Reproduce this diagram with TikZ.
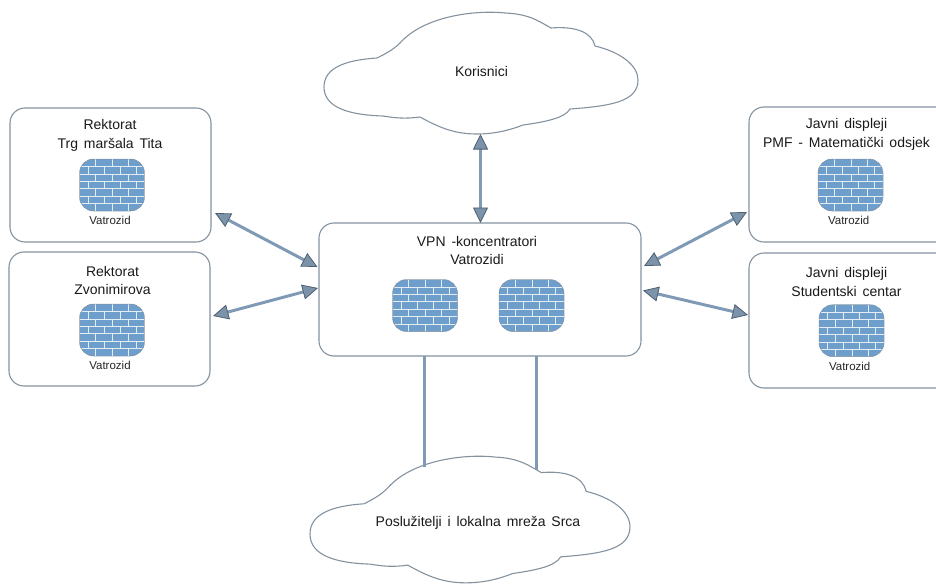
\documentclass[tikz,border=0pt]{standalone}
\usepackage{fontspec}
\setmainfont[WordSpace=1.5]{Liberation Sans}
\usetikzlibrary{arrows.meta,calc}
\definecolor{edgegrey}{HTML}{84929F}
\definecolor{linkblue}{HTML}{7F9AB4}
\definecolor{tipfill}{HTML}{7B93AB}
\definecolor{tipedge}{HTML}{4F5F6E}
\definecolor{brick}{HTML}{6E9ECC}
\definecolor{mortar}{HTML}{E4EDF4}
\newcommand{\cloudshape}{(377,58)
 .. controls (385,54) and (393,50) .. (400,43)
 .. controls (425,15) and (478,10) .. (505,13)
 .. controls (530,14) and (540,22) .. (551,28)
 .. controls (575,26) and (592,32) .. (595,46)
 .. controls (620,52) and (638,65) .. (638,80)
 .. controls (638,102) and (610,106) .. (570,109)
 .. controls (565,118) and (545,122) .. (523,125)
 .. controls (505,132) and (490,134) .. (477,134)
 .. controls (455,134) and (440,128) .. (420,117)
 .. controls (405,119) and (395,118) .. (383,116)
 .. controls (350,115) and (324,108) .. (324,87)
 .. controls (324,68) and (345,60) .. (377,58) -- cycle}
\tikzset{
 x=1pt,y=-1pt,
 sitebox/.style={draw=edgegrey,line width=1.1pt,rounded corners=15pt,minimum width=#1,minimum height=134pt,inner sep=0pt,outer sep=0pt},
 cloudline/.style={draw=edgegrey,line width=1.1pt,line join=round},
 cloudbox/.style={inner sep=0pt,outer sep=0pt},
 caption/.style={font=\fontsize{14}{18.8}\selectfont,align=center,inner sep=0pt,text=black!90},
 fwcaption/.style={font=\fontsize{11.5}{14}\selectfont,inner sep=0pt,text=black!85},
 link/.style={draw=linkblue,line width=3pt,{Triangle[length=15.5pt,width=15pt,fill=tipfill,color=tipedge,line width=.8pt]}-{Triangle[length=15.5pt,width=15pt,fill=tipfill,color=tipedge,line width=.8pt]}},
 plainlink/.style={draw=linkblue,line width=3pt},
 pics/brickwall/.style={code={
  \begin{scope}
  \clip[rounded corners=14pt] (-32.5,-26) rectangle (32.5,26);
  \fill[brick] (-32.5,-26) rectangle (32.5,26);
  \foreach \r in {1,...,6}{\draw[mortar,line width=.8pt] (-33,{-26+\r*7.45}) -- (33,{-26+\r*7.45});}
  \foreach \r in {0,2,4,6}{\foreach \v in {16.3,33,49,65}{\draw[mortar,line width=.8pt] ({-32.5+\v},{-26+\r*7.45}) -- ({-32.5+\v},{-26+(\r+1)*7.45});}}
  \foreach \r in {1,3,5}{\foreach \v in {8.7,24.7,40.7,56.7}{\draw[mortar,line width=.8pt] ({-32.5+\v},{-26+\r*7.45}) -- ({-32.5+\v},{-26+(\r+1)*7.45});}}
  \end{scope}
  \draw[edgegrey,line width=.5pt,rounded corners=14pt] (-32.5,-26) rectangle (32.5,26);
 }}
}
\begin{document}
\begin{tikzpicture}
\useasboundingbox (0,0) rectangle (936,583);
% boxes
\node[sitebox=201pt] (rekt1) at (110.5,175) {};
\node[sitebox=201pt] (rekt2) at (109.5,319) {};
\node[sitebox=322pt,minimum height=133pt] (vpn) at (480,289.5) {};
\node[sitebox=210pt,minimum height=135pt] (disp1) at (854,174.5) {};
\node[sitebox=210pt,minimum height=135pt] (disp2) at (854,320.5) {};
% clouds
\path[cloudline] \cloudshape;
\path[cloudline,shift={(310,457)},xscale=1.019,yscale=1.04,shift={(-324,-13)}] \cloudshape;
\node[cloudbox,minimum width=314pt,minimum height=121pt] (users) at (481,73.5) {};
\node[cloudbox,minimum width=320pt,minimum height=126pt] (servers) at (470,520) {};
% firewalls
\pic at (112,185) {brickwall};
\pic at (112,330) {brickwall};
\pic at (425,305.5) {brickwall};
\pic at (531.5,305.5) {brickwall};
\pic at (850.5,185) {brickwall};
\pic at (851.5,330.7) {brickwall};
% text
\node[caption] (t1) at (110,135) {Rektorat\\Trg maršala Tita};
\node[caption] (t2) at (112.5,280.5) {Rektorat\\Zvonimirova};
\node[caption] (t3) at (477,250.5) {VPN -koncentratori\\Vatrozidi};
\node[caption] (t4) at (846.5,134.5) {Javni displeji\\PMF - Matematički odsjek};
\node[caption] (t5) at (846.5,282) {Javni displeji\\Studentski centar};
\node[caption] (t6) at (481.5,71.5) {Korisnici};
\node[caption] (t7) at (478,523) {Poslužitelji i lokalna mreža Srca};
\node[fwcaption] (f1) at (110,220.7) {Vatrozid};
\node[fwcaption] (f2) at (110,365) {Vatrozid};
\node[fwcaption] (f3) at (848.7,220.7) {Vatrozid};
\node[fwcaption] (f4) at (849.7,366.7) {Vatrozid};
% connectors
\draw[link] ([shift={(4,-29)}]rekt1.south east) -- ([shift={(-1.5,44)}]vpn.north west);
\draw[link] ([shift={(3,64)}]rekt2.north east) -- ([shift={(-1,65)}]vpn.north west);
\draw[link] ([shift={(-0.5,0)}]users.south) -- ([shift={(0.5,0)}]vpn.north);
\draw[link] ([shift={(-2,105)}]disp1.north west) -- ([shift={(3,43)}]vpn.north east);
\draw[link] ([shift={(2,67.5)}]vpn.north east) -- ([shift={(-1,62)}]disp2.north west);
\draw[plainlink] ([shift={(-55.5,0)}]vpn.south) -- ([shift={(-45.5,10)}]servers.north);
\draw[plainlink] ([shift={(56,0)}]vpn.south) -- ([shift={(66,13)}]servers.north);
\end{tikzpicture}
\end{document}
